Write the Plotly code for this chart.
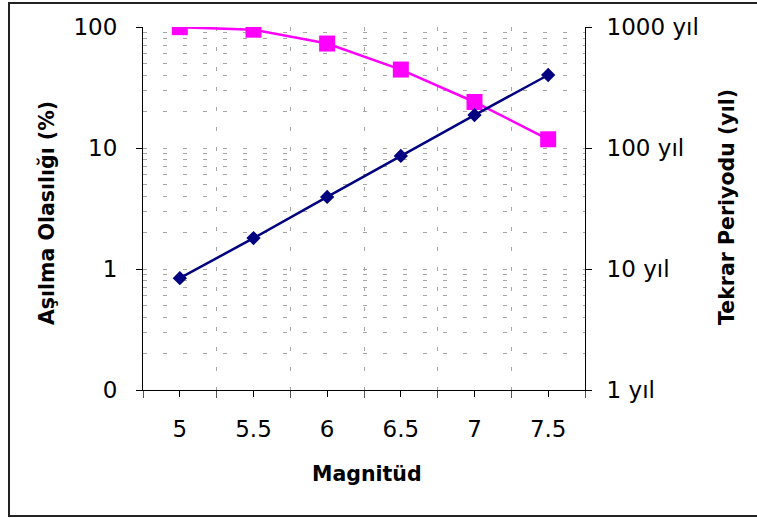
import plotly.graph_objects as go

# Data
magnitude = [5, 5.5, 6, 6.5, 7, 7.5]
asilma_olasiligi = [99.7, 95.0, 73.0, 44.5, 24.0, 11.8]      # % (left axis)
tekrar_periyodu = [8.4, 18.0, 39.4, 86.0, 187.0, 401.0]     # yıl (right axis)

x_tick_vals = [5, 5.5, 6, 6.5, 7, 7.5]
x_tick_text = ["5", "5.5", "6", "6.5", "7", "7.5"]
x_boundaries = [4.75, 5.25, 5.75, 6.25, 6.75, 7.25, 7.75]
left_tick_vals = [0.1, 1, 10, 100]
left_tick_text = ["0", "1", "10", "100"]
right_tick_vals = [1, 10, 100, 1000]
right_tick_text = ["1 yıl", "10 yıl", "100 yıl", "1000 yıl"]

FONT = "DejaVu Sans, Arial, sans-serif"
GRID = "#a6a6a6"
DASH = "4px,16px"
TICK_SIZE = 23
TITLE_SIZE = 20.5

fig = go.Figure()
fig.add_trace(go.Scatter(
    x=magnitude, y=asilma_olasiligi, mode="lines+markers", yaxis="y",
    line=dict(color="#FF00FF", width=2.5),
    marker=dict(symbol="square", size=16, color="#FF00FF"),
    showlegend=False, name="Aşılma Olasılığı"))
fig.add_trace(go.Scatter(
    x=magnitude, y=tekrar_periyodu, mode="lines+markers", yaxis="y2",
    line=dict(color="#000080", width=2.5),
    marker=dict(symbol="diamond", size=11, color="#000080"),
    showlegend=False, name="Tekrar Periyodu"))

fig.update_layout(
    width=757, height=518,
    margin=dict(l=143, r=172, t=27, b=128),
    paper_bgcolor="white", plot_bgcolor="white",
    font=dict(family=FONT, size=TICK_SIZE, color="black"),
    xaxis=dict(
        range=[4.75, 7.75], tickmode="array", tickvals=x_tick_vals, ticktext=x_tick_text,
        showgrid=False, zeroline=False, showline=True, linecolor="black", linewidth=1,
        ticks="outside", ticklen=6, tickcolor="black", ticklabelstandoff=12,
        minor=dict(tickmode="array", tickvals=x_boundaries, ticks="outside", ticklen=7,
                   tickcolor="#555555", showgrid=True, gridcolor=GRID, griddash=DASH, gridwidth=1),
    ),
    xaxis2=dict(
        range=[4.75, 7.75], overlaying="x", anchor="y", side="bottom",
        tickmode="array", tickvals=x_tick_vals + x_boundaries, ticks="inside", ticklen=6,
        tickcolor="black", showticklabels=False, showgrid=False, zeroline=False, showline=False,
    ),
    yaxis=dict(
        type="log", range=[-1, 2], tickmode="array", tickvals=left_tick_vals, ticktext=left_tick_text,
        showline=True, linecolor="black", linewidth=1, ticks="outside", ticklen=6, tickcolor="black",
        ticklabelstandoff=14, showgrid=True, gridcolor=GRID, griddash=DASH, gridwidth=1, zeroline=False,
        minor=dict(dtick="D1", showgrid=True, gridcolor=GRID, griddash=DASH, gridwidth=1, ticks=""),
    ),
    yaxis2=dict(
        type="log", range=[0, 3], overlaying="y", side="right", anchor="x",
        tickmode="array", tickvals=right_tick_vals, ticktext=right_tick_text,
        showline=True, linecolor="black", linewidth=1, ticks="outside", ticklen=6, tickcolor="black",
        ticklabelstandoff=10, showgrid=False, zeroline=False,
    ),
    yaxis3=dict(
        type="log", range=[-1, 2], overlaying="y", side="left", anchor="x",
        tickmode="array", tickvals=left_tick_vals, ticks="inside", ticklen=5, tickcolor="black",
        showticklabels=False, showgrid=False, zeroline=False, showline=False,
    ),
    yaxis4=dict(
        type="log", range=[0, 3], overlaying="y", side="right", anchor="x",
        tickmode="array", tickvals=right_tick_vals, ticks="inside", ticklen=5, tickcolor="black",
        showticklabels=False, showgrid=False, zeroline=False, showline=False,
    ),
    annotations=[
        dict(text="<b>Aşılma Olasılığı (%)</b>", xref="paper", yref="paper",
             x=(47 - 143) / 442, y=(390 - 213) / 363, textangle=-90, showarrow=False,
             font=dict(family=FONT, size=TITLE_SIZE), xanchor="center", yanchor="middle"),
        dict(text="<b>Tekrar Periyodu (yıl)</b>", xref="paper", yref="paper",
             x=(727 - 143) / 442, y=(390 - 207) / 363, textangle=-90, showarrow=False,
             font=dict(family=FONT, size=TITLE_SIZE), xanchor="center", yanchor="middle"),
        dict(text="<b>Magnitüd</b>", xref="paper", yref="paper",
             x=(367 - 143) / 442, y=(390 - 474) / 363, showarrow=False,
             font=dict(family=FONT, size=TITLE_SIZE), xanchor="center", yanchor="middle"),
    ],
    shapes=[
        dict(type="rect", xref="paper", yref="paper",
             x0=(9 - 143) / 442, x1=(770 - 143) / 442,
             y0=(390 - 516) / 363, y1=(390 - 3) / 363,
             line=dict(color="#222222", width=2), fillcolor="rgba(0,0,0,0)", layer="below"),
    ],
)

fig.write_html("out.html", config={"displayModeBar": False},
               post_script="document.body.style.margin='0';document.body.style.overflow='hidden';")
